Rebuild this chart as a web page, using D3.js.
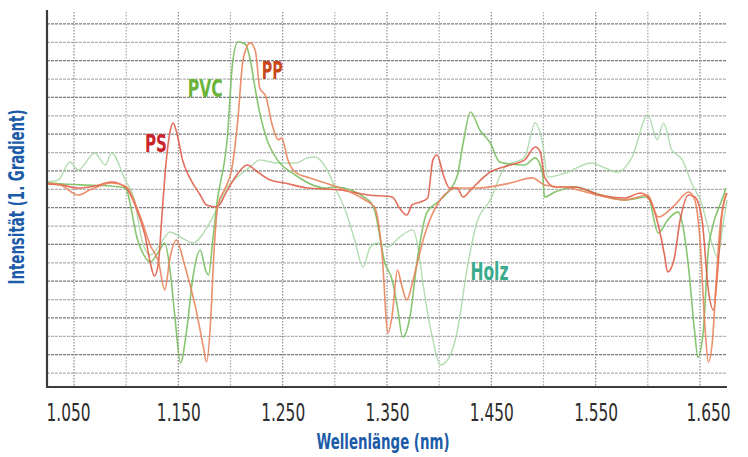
<!DOCTYPE html>
<html>
<head>
<meta charset="utf-8">
<script src="https://cdn.jsdelivr.net/npm/d3@7"></script>
<style>
  body { margin: 0; background: #fff; overflow: hidden; }
  text { font-family: "Liberation Sans Narrow", "DejaVu Sans Condensed", "Noto Sans", sans-serif; }
</style>
</head>
<body>
<div id="chart"></div>
<script>
// spectra: [wavelength nm, 1st derivative intensity (grid units)]
var holz = [[1024,0.11],[1035,0.22],[1046,1.20],[1054,0.76],[1070,1.69],[1080,1.03],[1086,1.69],[1099,0.22],
  [1108,-0.87],[1115,-3.05],[1123,-3.87],[1132,-3.32],[1142,-2.61],[1152,-2.89],[1164,-3.21],[1176,-2.50],
  [1183,-1.80],[1197,-0.16],[1209,0.49],[1219,0.93],[1228,1.31],[1245,1.14],[1262,1.14],[1274,1.42],
  [1281,1.47],[1291,0.93],[1300,-0.16],[1310,-1.42],[1319,-3.05],[1327,-4.52],[1334,-3.43],[1341,-3.21],
  [1351,-3.43],[1362,-2.89],[1375,-2.50],[1379,-3.21],[1385,-5.61],[1394,-8.49],[1401,-9.85],[1408,-9.58],
  [1417,-8.11],[1427,-4.52],[1436,-2.12],[1449,-0.87],[1463,0.93],[1482,1.47],[1492,3.32],[1499,2.23],
  [1504,0.38],[1521,0.60],[1546,1.14],[1559,0.87],[1571,0.65],[1585,1.47],[1600,3.76],[1609,2.40],
  [1615,3.32],[1623,1.85],[1633,1.31],[1642,0.05],[1652,-1.14],[1662,-3.32],[1667,-4.03],[1672,-2.23],[1676,-0.87]]

var pvc = [[1024,0.05],[1056,-0.05],[1085,-0.11],[1099,-0.22],[1111,-3.05],[1118,-3.97],[1123,-4.25],[1131,-3.70],
  [1137,-3.21],[1142,-4.68],[1147,-7.40],[1152,-9.74],[1158,-7.95],[1164,-5.06],[1171,-3.59],[1176,-4.68],
  [1179,-4.95],[1183,-3.05],[1187,-1.03],[1197,2.56],[1202,6.59],[1207,7.73],[1214,7.62],[1219,6.75],
  [1223,5.39],[1228,3.87],[1235,2.40],[1245,1.31],[1262,0.49],[1291,-0.22],[1300,-0.16],[1332,-0.87],
  [1338,-1.42],[1348,-4.30],[1355,-5.23],[1360,-6.70],[1365,-8.33],[1372,-7.24],[1379,-4.14],[1388,-1.58],
  [1401,-0.87],[1417,0.38],[1423,2.23],[1430,3.92],[1439,2.94],[1449,2.23],[1458,1.20],[1468,1.09],
  [1482,1.03],[1492,1.42],[1499,0.60],[1501,-0.71],[1511,-0.44],[1530,-0.16],[1549,-0.49],[1578,-0.87],
  [1600,-0.71],[1610,-2.67],[1619,-1.96],[1629,-1.52],[1633,-2.12],[1639,-4.52],[1645,-8.11],[1648,-9.42],
  [1653,-8.11],[1658,-3.59],[1662,-2.34],[1671,-0.87],[1675,-0.22]]

var ps = [[1024,0],[1037,-0.05],[1054,-0.22],[1070,-0.11],[1086,0.11],[1099,-0.16],[1111,-1.52],[1118,-2.78],
  [1123,-4.25],[1127,-5.01],[1131,-4.25],[1134,-1.96],[1138,1.03],[1142,2.83],[1145,3.32],[1149,2.67],
  [1154,1.31],[1161,0.33],[1171,-0.60],[1177,-1.14],[1187,-1.25],[1197,-0.33],[1206,0.49],[1216,1.03],
  [1226,0.65],[1238,0.22],[1252,0.05],[1274,-0.22],[1305,-0.33],[1332,-0.60],[1355,-0.71],[1362,-1.31],
  [1369,-1.69],[1374,-1.14],[1382,-0.98],[1389,-0.76],[1394,1.31],[1398,1.58],[1404,0.49],[1410,-0.22],
  [1417,-0.22],[1423,-0.71],[1430,-0.33],[1449,0.65],[1468,1.03],[1482,1.31],[1492,2.01],[1497,1.74],
  [1501,0.38],[1511,-0.16],[1530,-0.16],[1554,-0.60],[1578,-0.76],[1593,-0.49],[1602,-0.87],[1610,-2.23],
  [1616,-3.87],[1619,-4.79],[1625,-4.14],[1631,-1.96],[1639,-0.60],[1645,-0.71],[1652,-1.96],[1658,-5.77],
  [1663,-6.86],[1667,-4.68],[1671,-1.69],[1676,-0.49]]

var pp = [[1024,0.05],[1037,-0.05],[1054,-0.60],[1065,-0.33],[1086,0.05],[1099,-0.11],[1113,-1.69],[1123,-3.32],
  [1131,-4.25],[1137,-5.77],[1142,-4.03],[1148,-3.05],[1156,-4.41],[1166,-6.59],[1174,-8.87],[1177,-9.69],
  [1181,-7.40],[1184,-3.87],[1188,-1.14],[1195,-0.22],[1201,0.76],[1207,3.48],[1212,6.75],[1219,7.68],
  [1224,7.19],[1228,5.23],[1234,4.74],[1240,3.21],[1246,2.40],[1249,2.50],[1255,1.31],[1262,0.65],
  [1276,0.33],[1291,0.05],[1310,-0.33],[1329,-0.87],[1338,-1.25],[1345,-3.59],[1351,-8.11],[1355,-7.13],
  [1360,-4.68],[1364,-5.50],[1369,-6.31],[1375,-5.23],[1379,-4.30],[1386,-2.78],[1401,-0.87],[1417,-0.22],
  [1436,-0.22],[1468,0.05],[1489,0.33],[1501,-0.05],[1525,-0.22],[1559,-0.71],[1578,-0.87],[1600,-0.60],
  [1610,-1.80],[1626,-1.14],[1639,-0.44],[1645,-0.87],[1650,-3.05],[1655,-7.95],[1658,-9.69],[1662,-8.49],
  [1665,-5.77],[1669,-2.50],[1675,-0.49]]

var xTicks = [1050, 1150, 1250, 1350, 1450, 1550, 1650]
var xTickLabels = ["1.050", "1.150", "1.250", "1.350", "1.450", "1.550", "1.650"]
var xGrid = [1050, 1100, 1150, 1200, 1250, 1300, 1350, 1400, 1450, 1500, 1550, 1600, 1650]
var yGrid = [8.71, 7.71, 6.71, 5.71, 4.71, 3.71, 2.71, 1.71, 0.71, -0.29, -1.29, -2.29, -3.29,
  -4.29, -5.29, -6.29, -7.29, -8.29, -9.29, -10.29]

var seriesNames = ["Holz", "PVC", "PS", "PP"]
var seriesData = [holz, pvc, ps, pp]

var lineColors = ["#a9d8a6", "#78bd5c", "#df5a46", "#e97f58"]
var labelColors = ["#3aab8d", "#6bb43c", "#c9242b", "#c9481c"]
// label anchor (left, baseline) in data coords
var labelPos = [[1430, -5.23, 38], [1159, 4.74, 35], [1118, 1.74, 22], [1230, 5.72, 21]]

var svgSize = { width: 748, height: 457 }
var margin = { top: 10, right: 21, bottom: 70, left: 47 }
var chartSize = {
  width: svgSize.width - margin.left - margin.right,
  height: svgSize.height - margin.top - margin.bottom
}

var svg = d3.select("#chart").append("svg")
  .attr("width", svgSize.width)
  .attr("height", svgSize.height)
  .style("display", "block")

var frame = svg.append("g")
  .attr("transform", `translate(${margin.left}, ${margin.top})`)

var xScale = d3.scaleLinear().domain([1024.1, 1675.9]).range([0, chartSize.width])
var yScale = d3.scaleLinear().domain([-11.05, 9.47]).range([chartSize.height, 0])

// grid
frame.append("g").selectAll("line").data(yGrid).enter().append("line")
  .attr("x1", 0).attr("x2", chartSize.width)
  .attr("y1", d => yScale(d)).attr("y2", d => yScale(d))
  .attr("stroke", (d, i) => i % 2 == 0 ? "#7d7d7d" : "#b0b0b0")
  .attr("stroke-width", 1.3)
  .attr("stroke-dasharray", "3,1")

frame.append("g").selectAll("line").data(xGrid).enter().append("line")
  .attr("x1", d => xScale(d)).attr("x2", d => xScale(d))
  .attr("y1", 2).attr("y2", chartSize.height)
  .attr("stroke", (d, i) => i % 2 == 0 ? "#8a8a8a" : "#a8a8a8")
  .attr("stroke-width", 1.2)
  .attr("stroke-dasharray", "1.5,1.5")

// spectra
var line = d3.line()
  .x(d => xScale(d[0]))
  .y(d => yScale(d[1]))
  .curve(d3.curveMonotoneX)

frame.append("g").selectAll("path").data(seriesData).enter().append("path")
  .attr("d", line)
  .attr("fill", "none")
  .attr("stroke", (d, i) => lineColors[i])
  .attr("stroke-width", (d, i) => i == 0 ? 1.4 : 1.6)
  .attr("stroke-opacity", 0.88)
  .attr("stroke-linejoin", "round")

// series labels
frame.append("g").selectAll("text").data(seriesNames).enter().append("text")
  .attr("x", (d, i) => xScale(labelPos[i][0]))
  .attr("y", (d, i) => yScale(labelPos[i][1]))
  .attr("textLength", (d, i) => labelPos[i][2])
  .attr("lengthAdjust", "spacingAndGlyphs")
  .attr("font-size", 25)
  .attr("font-weight", "bold")
  .attr("fill", (d, i) => labelColors[i])
  .text(d => d)

// axes
var bottomAxis = d3.axisBottom(xScale)
  .tickValues(xTicks)
  .tickFormat((d, i) => xTickLabels[i])
  .tickSize(0)

var xAxis = frame.append("g")
  .attr("transform", `translate(0, ${chartSize.height})`)
  .call(bottomAxis)
xAxis.select(".domain").remove()
xAxis.selectAll("text")
  .attr("y", 34).attr("dy", 0)
  .attr("dx", (d, i) => i == 0 ? -6 : (i == xTicks.length - 1 ? 8 : 0))
  .attr("font-size", 24)
  .attr("fill", "#2c2c2c")
  .attr("textLength", 44)
  .attr("lengthAdjust", "spacingAndGlyphs")
  .style("font-family", "'Liberation Sans Narrow', 'DejaVu Sans Condensed', sans-serif")

frame.append("line")
  .attr("x1", -1).attr("x2", chartSize.width)
  .attr("y1", chartSize.height).attr("y2", chartSize.height)
  .attr("stroke", "#3c3c3c").attr("stroke-width", 2.2)
frame.append("line")
  .attr("x1", 0).attr("x2", 0)
  .attr("y1", 0).attr("y2", chartSize.height)
  .attr("stroke", "#3c3c3c").attr("stroke-width", 2.2)

// axis titles
svg.append("text")
  .attr("x", 383).attr("y", 449)
  .attr("text-anchor", "middle")
  .attr("font-size", 21).attr("font-weight", "bold")
  .attr("fill", "#1b5ba8")
  .attr("textLength", 133).attr("lengthAdjust", "spacingAndGlyphs")
  .text("Wellenlänge (nm)")

svg.append("text")
  .attr("transform", "translate(24, 197) rotate(-90)")
  .attr("text-anchor", "middle")
  .attr("font-size", 21).attr("font-weight", "bold")
  .attr("fill", "#1b5ba8")
  .attr("textLength", 175).attr("lengthAdjust", "spacingAndGlyphs")
  .text("Intensität (1. Gradient)")
</script>
</body>
</html>
